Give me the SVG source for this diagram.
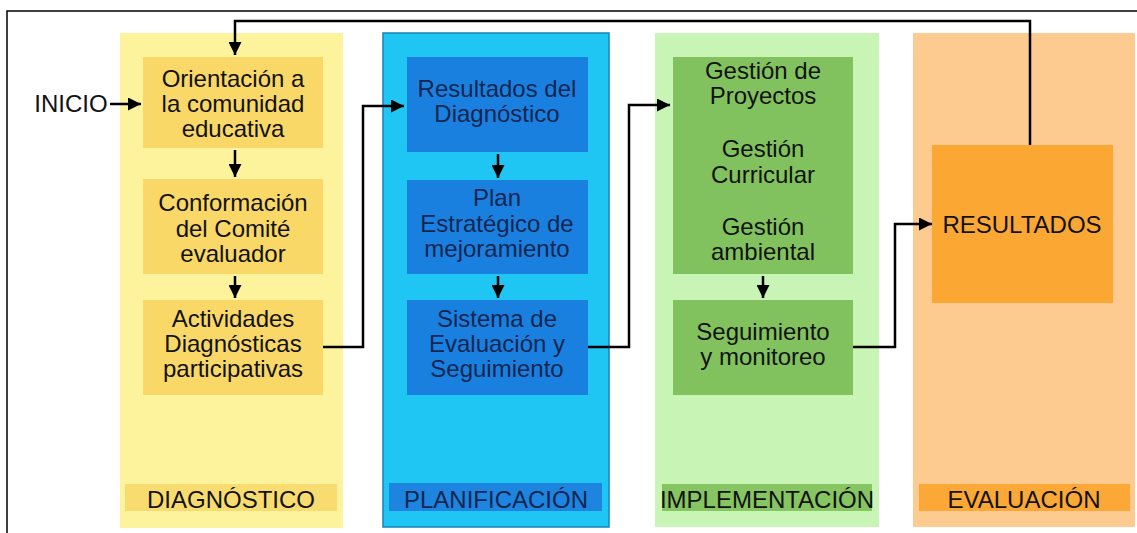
<svg xmlns="http://www.w3.org/2000/svg" width="1137" height="533" viewBox="0 0 1137 533">
<defs>
<marker id="ah" viewBox="0 0 10 10" refX="10" refY="5" markerWidth="13" markerHeight="13" markerUnits="userSpaceOnUse" orient="auto">
<path d="M0,0 L10,5 L0,10 Z" fill="#000"/>
</marker>
<style>
text{font-family:"Liberation Sans",Arial,sans-serif;font-size:24px;text-anchor:middle;fill:#121212}
.blue text{fill:#152650}
.conn path{fill:none;stroke:#000;stroke-width:2.5}
.frame{fill:none;stroke:#000;stroke-width:1.5}
</style>
</defs>
<rect width="1137" height="533" fill="#fff"/>
<path class="frame" d="M7,533 V11 H1137"/>

<g id="col-diagnostico">
<rect x="120" y="33" width="223" height="495" fill="#fcf39c"/>
<rect x="125" y="484" width="212" height="27" fill="#f9dc70"/>
<text x="231" y="508">DIAGNÓSTICO</text>
</g>
<g id="col-planificacion" class="blue">
<rect x="383" y="33" width="226" height="494" fill="#1fc6f3" stroke="#1682b8" stroke-width="1.5"/>
<rect x="389" y="483" width="213" height="28" fill="#1d84e0"/>
<text x="496" y="508">PLANIFICACIÓN</text>
</g>
<g id="col-implementacion">
<rect x="655" y="33" width="224" height="494" fill="#c8f5b6"/>
<rect x="662" y="484" width="210" height="27" fill="#86c562"/>
<text x="767" y="508">IMPLEMENTACIÓN</text>
</g>
<g id="col-evaluacion">
<rect x="913" y="33" width="222" height="494" fill="#fdca90"/>
<rect x="919" y="484" width="211" height="27" fill="#fba837"/>
<text x="1024" y="508">EVALUACIÓN</text>
</g>

<g id="inicio"><text x="71" y="112">INICIO</text></g>

<g id="orientacion">
<rect x="143" y="57" width="180" height="91" fill="#f9d867"/>
<text x="233" y="87">Orientación a</text>
<text x="233" y="112">la comunidad</text>
<text x="233" y="137">educativa</text>
</g>
<g id="conformacion">
<rect x="143" y="179" width="180" height="95" fill="#f9d867"/>
<text x="233" y="211">Conformación</text>
<text x="233" y="237">del Comité</text>
<text x="233" y="262">evaluador</text>
</g>
<g id="actividades">
<rect x="143" y="300" width="180" height="95" fill="#f9d867"/>
<text x="233" y="327">Actividades</text>
<text x="233" y="352">Diagnósticas</text>
<text x="233" y="377">participativas</text>
</g>

<g id="resultados-diag" class="blue">
<rect x="407" y="57" width="181" height="95" fill="#1a80e0"/>
<text x="497" y="97">Resultados del</text>
<text x="497" y="122">Diagnóstico</text>
</g>
<g id="plan" class="blue">
<rect x="407" y="180" width="181" height="94" fill="#1a80e0"/>
<text x="497" y="206">Plan</text>
<text x="497" y="232">Estratégico de</text>
<text x="497" y="257">mejoramiento</text>
</g>
<g id="sistema" class="blue">
<rect x="407" y="300" width="181" height="95" fill="#1a80e0"/>
<text x="497" y="327">Sistema de</text>
<text x="497" y="352">Evaluación y</text>
<text x="497" y="377">Seguimiento</text>
</g>

<g id="gestion">
<rect x="673" y="57" width="180" height="217" fill="#82c25e"/>
<text x="763" y="79">Gestión de</text>
<text x="763" y="104">Proyectos</text>
<text x="763" y="157">Gestión</text>
<text x="763" y="183">Curricular</text>
<text x="763" y="235">Gestión</text>
<text x="763" y="260">ambiental</text>
</g>
<g id="seguimiento">
<rect x="673" y="300" width="180" height="95" fill="#82c25e"/>
<text x="763" y="340">Seguimiento</text>
<text x="763" y="365">y monitoreo</text>
</g>

<g id="resultados">
<rect x="932" y="145" width="181" height="158" fill="#fba733"/>
<text x="1022" y="233">RESULTADOS</text>
</g>

<g id="connectors" class="conn">
<path d="M1030,145 V21 H235 V55" marker-end="url(#ah)"/>
<path d="M110,104 H141" marker-end="url(#ah)"/>
<path d="M235,150 V177" marker-end="url(#ah)"/>
<path d="M235,276 V298" marker-end="url(#ah)"/>
<path d="M323,347 H363 V106 H404" marker-end="url(#ah)"/>
<path d="M498,154 V178" marker-end="url(#ah)"/>
<path d="M498,276 V298" marker-end="url(#ah)"/>
<path d="M588,347 H629 V105 H670" marker-end="url(#ah)"/>
<path d="M763,276 V298" marker-end="url(#ah)"/>
<path d="M853,347 H895 V224 H932" marker-end="url(#ah)"/>
</g>
</svg>
